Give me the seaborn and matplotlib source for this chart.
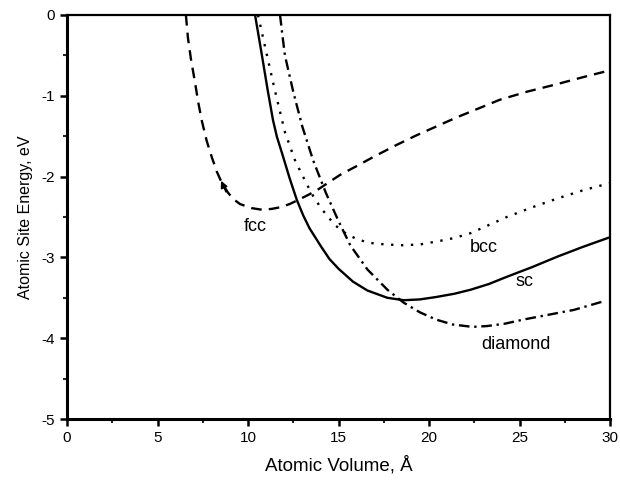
import matplotlib
matplotlib.use("Agg")
import matplotlib.pyplot as plt
import seaborn as sns

# ---- data ----
fcc_x = [6.57, 6.68, 6.85, 7.07, 7.25, 7.46, 7.72, 8.0, 8.28, 8.56, 8.9, 9.2, 9.56, 10.2, 10.77,
         11.3, 11.77, 12.3, 12.76, 13.3, 13.8, 14.4, 15.08, 16.0, 16.9, 18.1, 19.3, 20.4, 21.5,
         22.7, 23.9, 25.4, 27.0, 28.5, 29.9]
fcc_y = [0.0, -0.28, -0.55, -0.83, -1.08, -1.32, -1.56, -1.76, -1.94, -2.08, -2.20, -2.28, -2.34,
         -2.39, -2.41, -2.40, -2.38, -2.34, -2.29, -2.23, -2.17, -2.08, -1.98, -1.87, -1.76,
         -1.62, -1.49, -1.38, -1.27, -1.16, -1.05, -0.95, -0.86, -0.77, -0.69]

sc_x = [10.39, 10.58, 10.77, 11.08, 11.38, 11.6, 11.88, 12.3, 12.7, 13.05, 13.4, 14.05, 14.5,
        15.0, 15.8, 16.6, 17.7, 18.6, 19.5, 20.4, 21.4, 22.3, 23.3, 24.3, 25.7, 27.1, 28.5, 30.0]
sc_y = [0.0, -0.25, -0.5, -0.92, -1.30, -1.51, -1.71, -2.02, -2.29, -2.48, -2.64, -2.87, -3.02,
        -3.14, -3.30, -3.41, -3.50, -3.53, -3.52, -3.49, -3.45, -3.40, -3.33, -3.24, -3.12,
        -2.99, -2.87, -2.75]

bcc_x = [10.55, 10.8, 11.05, 11.45, 11.88, 12.04, 12.6, 13.26, 13.7, 14.14, 14.8, 15.5, 16.1,
         16.7, 17.6, 18.6, 19.5, 20.5, 21.4, 22.3, 23.3, 24.3, 25.7, 27.1, 28.5, 30.0]
bcc_y = [0.0, -0.25, -0.5, -0.9, -1.30, -1.45, -1.80, -2.10, -2.28, -2.42, -2.60, -2.72, -2.78,
         -2.82, -2.84, -2.85, -2.84, -2.80, -2.76, -2.70, -2.60, -2.50, -2.38, -2.27, -2.17, -2.08]

dia_x = [11.77, 11.9, 12.04, 12.5, 13.0, 13.6, 14.3, 15.0, 15.65, 16.6, 17.7, 18.6, 19.5, 20.4,
         21.3, 22.4, 23.2, 24.2, 25.2, 26.6, 28.0, 29.7]
dia_y = [0.0, -0.25, -0.5, -0.95, -1.38, -1.80, -2.20, -2.55, -2.85, -3.15, -3.40, -3.56, -3.68,
         -3.77, -3.83, -3.86, -3.85, -3.82, -3.77, -3.71, -3.65, -3.54]

labels = ["fcc", "bcc", "sc", "diamond"]
label_pos_x = [10.4, 23.0, 25.3, 24.8]
label_pos_y = [-2.62, -2.88, -3.30, -4.08]

x_ticks = [0, 5, 10, 15, 20, 25, 30]
y_ticks = [-5, -4, -3, -2, -1, 0]

# ---- styling ----
sns.set_theme(style="white")
plt.rcParams["font.family"] = ["Liberation Sans", "DejaVu Sans"]
plt.rcParams["axes.unicode_minus"] = False

fig = plt.figure(figsize=(6.2, 4.84), dpi=100)
ax = fig.add_axes([67 / 620, 1 - 419 / 484, (610 - 67) / 620, (419 - 15) / 484])

lw = 1.7
sns.lineplot(x=fcc_x, y=fcc_y, ax=ax, color="black", lw=lw, estimator=None, sort=False,
             linestyle=(0, (4.5, 3)))
sns.lineplot(x=sc_x, y=sc_y, ax=ax, color="black", lw=lw, estimator=None, sort=False)
sns.lineplot(x=bcc_x, y=bcc_y, ax=ax, color="black", lw=lw, estimator=None, sort=False,
             linestyle=(0, (1, 3.2)))
sns.lineplot(x=dia_x, y=dia_y, ax=ax, color="black", lw=lw, estimator=None, sort=False,
             linestyle=(0, (4.5, 2, 1, 2)))

# small arrowhead on the fcc curve
ax.annotate("", xy=(8.45, -2.02), xytext=(8.85, -2.22),
            arrowprops=dict(arrowstyle="-|>", color="black", lw=1.2, mutation_scale=10))

for t, lx, ly in zip(labels, label_pos_x, label_pos_y):
    ax.text(lx, ly, t, fontsize=13, ha="center", va="center", color="black")

ax.set_xlim(0, 30)
ax.set_ylim(-5, 0)
ax.set_xticks(x_ticks)
ax.set_yticks(y_ticks)
ax.set_xticklabels([str(v) for v in x_ticks])
ax.set_yticklabels([str(v) for v in y_ticks])
ax.set_xticks([2.5, 7.5, 12.5, 17.5, 22.5, 27.5], minor=True)
ax.set_yticks([-4.5, -3.5, -2.5, -1.5, -0.5], minor=True)
ax.tick_params(axis="both", which="major", direction="out", length=5, width=1.8,
               labelsize=11, colors="black", bottom=True, left=True)
ax.tick_params(axis="both", which="minor", direction="out", length=3, width=1.5,
               bottom=True, left=True)

for side in ["left", "bottom"]:
    ax.spines[side].set_linewidth(2.2)
    ax.spines[side].set_color("black")
for side in ["top", "right"]:
    ax.spines[side].set_linewidth(1.6)
    ax.spines[side].set_color("black")

ax.set_xlabel("Atomic Volume, Å", fontsize=13.5, color="black", labelpad=8)
ax.set_ylabel("Atomic Site Energy, eV", fontsize=11.5, color="black", labelpad=6)

fig.savefig("out.png", dpi=100, facecolor="white")
